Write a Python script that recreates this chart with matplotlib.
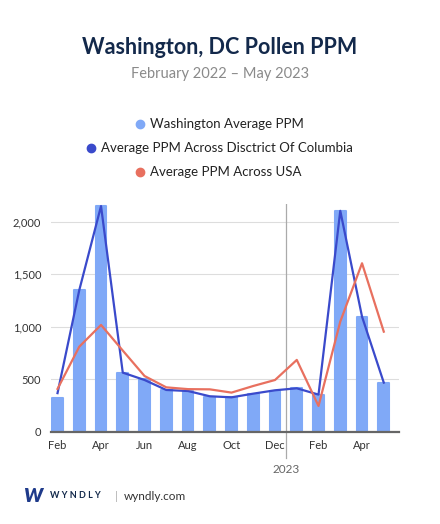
import matplotlib
matplotlib.use("Agg")
import matplotlib.pyplot as plt
from matplotlib.lines import Line2D
import numpy as np

months = ["Feb", "Mar", "Apr", "May", "Jun", "Jul", "Aug", "Sep", "Oct", "Nov",
          "Dec", "Jan", "Feb", "Mar", "Apr", "May"]
washington = [320, 1350, 2150, 565, 502, 400, 390, 336, 330, 362, 390, 416, 352, 2105, 1098, 470]
dc_avg = [370, 1350, 2150, 565, 495, 400, 390, 340, 330, 365, 397, 416, 356, 2105, 1098, 470]
usa_avg = [410, 812, 1019, 775, 533, 425, 408, 406, 375, 438, 495, 686, 248, 1051, 1606, 955]
tick_labels = ["Feb", "Apr", "Jun", "Aug", "Oct", "Dec", "Feb", "Apr"]
y_ticks = [0, 500, 1000, 1500, 2000]
year_label = "2023"

FONT = "Lato"
plt.rcParams["font.family"] = [FONT, "DejaVu Sans"]

W, H = 440, 524
fig = plt.figure(figsize=(W / 100, H / 100), dpi=100)

def fx(px):
    return px / W

def fy(py):
    return 1 - py / H

ax_left, ax_right, ax_top, ax_bottom = 51, 399, 204, 432
ax = fig.add_axes([fx(ax_left), fy(ax_bottom), fx(ax_right - ax_left), fy(ax_top) - fy(ax_bottom)])

x = np.arange(len(months))
bar_color = "#80A9F7"
ax.bar(x, washington, width=0.5, color=bar_color, edgecolor=bar_color,
       linewidth=1.5, joinstyle="round", zorder=2)
ax.plot(x, dc_avg, color="#3A4ACB", linewidth=1.6, zorder=3)
ax.plot(x, usa_avg, color="#E8705F", linewidth=1.6, zorder=3)

ax.set_xlim(-0.3, 15.7)
ax.set_ylim(0, 2170)
ax.set_yticks(y_ticks)
ax.set_yticklabels([f"{v:,}" for v in y_ticks])
ax.set_xticks(np.arange(0, 16, 2))
ax.set_xticklabels(tick_labels)
ax.tick_params(axis="both", length=0, labelsize=8, colors="#333333")
ax.tick_params(axis="x", pad=6)
ax.tick_params(axis="y", pad=7)
ax.grid(axis="y", color="#DDDDDD", linewidth=0.8, zorder=0)
ax.set_axisbelow(True)
for s in ["top", "right", "left"]:
    ax.spines[s].set_visible(False)
ax.spines["bottom"].set_color("#666666")
ax.spines["bottom"].set_linewidth(1.6)
ax.spines["bottom"].set_zorder(4)

# year divider
div_x = 10.5
ax.plot([div_x, div_x], [0, 2170], color="#AAAAAA", linewidth=0.9, zorder=1)
ax.plot([div_x, div_x], [0, -250], color="#AAAAAA", linewidth=0.9, clip_on=False, zorder=1)
ax.text(div_x, -360, year_label, ha="center", va="center", fontsize=8.5, color="#666666")

# title
fig.text(0.5, fy(47), "Washington, DC Pollen PPM", ha="center", va="center",
         fontsize=15.5, fontweight="bold", color="#13294B")
fig.text(0.5, fy(74), "February 2022 \u2013 May 2023", ha="center", va="center",
         fontsize=10.5, color="#8A8A8A")

# legend
entries = [("Washington Average PPM", bar_color, 140, 124),
           ("Average PPM Across Disctrict Of Columbia", "#3A4ACB", 91, 148),
           ("Average PPM Across USA", "#E8705F", 140, 172)]
for label, col, mx, my in entries:
    fig.add_artist(Line2D([fx(mx)], [fy(my)], marker="o", markersize=6, color=col,
                          linestyle="none", transform=fig.transFigure))
    fig.text(fx(mx + 10), fy(my), label, ha="left", va="center", fontsize=9.5, color="#222222")

# footer
fig.text(fx(23), fy(496), "W", ha="left", va="center", fontsize=14, fontweight="heavy",
         color="#1E3A8A", style="italic")
fig.text(fx(50), fy(496), "W Y N D L Y", ha="left", va="center", fontsize=6.5,
         fontweight="bold", color="#13294B")
fig.text(fx(115), fy(496), "|", ha="left", va="center", fontsize=8, color="#AAAAAA")
fig.text(fx(124), fy(496), "wyndly.com", ha="left", va="center", fontsize=8.5, color="#333333")

fig.savefig("out.png", dpi=100)
